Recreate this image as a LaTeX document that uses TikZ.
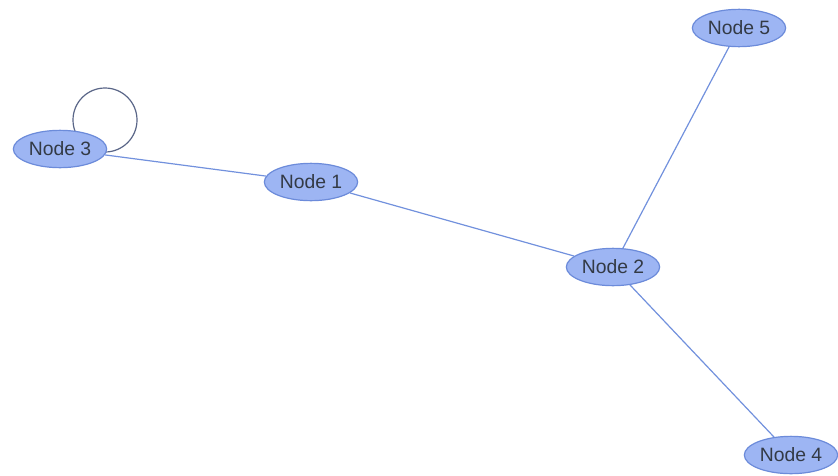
\documentclass[tikz,border=0pt]{standalone}
\usepackage{fontspec}
\setmainfont{Liberation Sans}
\usetikzlibrary{shapes.geometric,backgrounds}
\definecolor{nodefill}{HTML}{9DB5F3}
\definecolor{nodeline}{HTML}{6C8BDA}
\definecolor{edgecol}{HTML}{7291DD}
\definecolor{txt}{HTML}{333A45}
\definecolor{loopcol}{HTML}{5A6688}
\tikzset{
  gnode/.style={ellipse, draw=nodeline, fill=nodefill, line width=0.9pt,
    minimum width=70pt, minimum height=28pt, inner sep=0pt,
    text=txt, font=\fontsize{14.5}{16}\selectfont},
  gedge/.style={draw=edgecol, line width=0.9pt},
  gloop/.style={draw=loopcol, line width=0.9pt}
}
\begin{document}
\begin{tikzpicture}[x=0.75pt,y=-0.75pt]
\useasboundingbox (0,0) rectangle (838,475);
\node[gnode] (n3) at (60,149) {Node 3};
\node[gnode] (n1) at (311,182) {Node 1};
\node[gnode] (n2) at (613,267) {Node 2};
\node[gnode] (n5) at (739,28) {Node 5};
\node[gnode] (n4) at (791,455) {Node 4};
\begin{scope}[on background layer]
\coordinate (lc) at (105,120);
\draw[gloop] (lc) circle[radius=32];
\draw[gedge] (n3) -- (n1);
\draw[gedge] (n1) -- (n2);
\draw[gedge] (n2) -- (n5);
\draw[gedge] (n2) -- (n4);
\end{scope}
\end{tikzpicture}
\end{document}
